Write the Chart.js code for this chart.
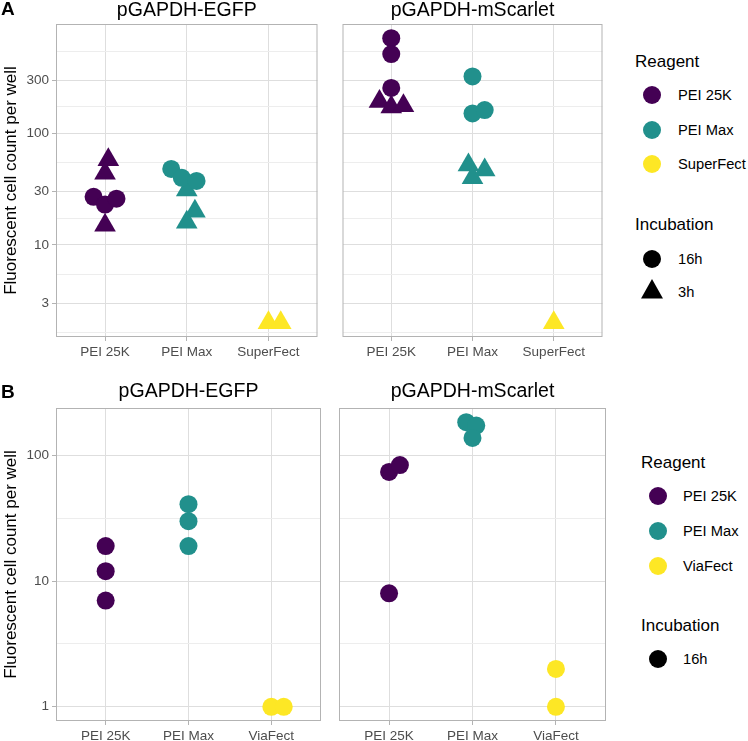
<!DOCTYPE html>
<html>
<head>
<meta charset="utf-8">
<script src="https://cdn.jsdelivr.net/npm/chart.js@4.4.1/dist/chart.umd.min.js"></script>
<style>
  html, body { margin: 0; padding: 0; background: #ffffff; }
  #wrap { position: relative; width: 748px; height: 741px; overflow: hidden;
          font-family: 'Liberation Sans', Arial, Helvetica, sans-serif; }
  #wrap canvas { position: absolute; }
  .txt { position: absolute; white-space: nowrap; line-height: 1; }
  .dot { position: absolute; border-radius: 50%; }
  .tri { position: absolute; clip-path: polygon(50% 0, 100% 100%, 0 100%); }
</style>
</head>
<body>
<div id="wrap"></div>
<script>
// ---------------- DATA ----------------
const plasmids     = ['pGAPDH-EGFP', 'pGAPDH-mScarlet'];
const reagentsA    = ['PEI 25K', 'PEI Max', 'SuperFect'];
const reagentsB    = ['PEI 25K', 'PEI Max', 'ViaFect'];
const incubationsA = ['16h', '3h'];
const incubationsB = ['16h'];
const yBreaksA     = [3, 10, 30, 100, 300];
const yBreaksB     = [1, 10, 100];
const reagentColors = ['#440154', '#21908C', '#FDE725'];
const yTitle = 'Fluorescent cell count per well';

// Panel A, pGAPDH-EGFP  (values; horizontal jitter in category units)
const aEgfpPei25k16h   = [27, 23, 26];     const aEgfpPei25k16hJit   = [-0.14, 0, 0.14];
const aEgfpPei25k3h    = [58, 44, 15];     const aEgfpPei25k3hJit    = [0.04, 0, 0];
const aEgfpPeiMax16h   = [48, 40, 37.5];   const aEgfpPeiMax16hJit   = [-0.19, -0.06, 0.12];
const aEgfpPeiMax3h    = [31, 20, 16];     const aEgfpPeiMax3hJit    = [0, 0.1, 0];
const aEgfpSuper3h     = [2, 2];           const aEgfpSuper3hJit     = [0, 0.15];

// Panel A, pGAPDH-mScarlet
const aScarPei25k16h   = [715, 515, 256];  const aScarPei25k16hJit   = [0, 0, 0];
const aScarPei25k3h    = [193, 173, 177];  const aScarPei25k3hJit    = [-0.145, 0, 0.15];
const aScarPeiMax16h   = [325, 151, 162];  const aScarPeiMax16hJit   = [0, 0, 0.15];
const aScarPeiMax3h    = [52, 40, 47];     const aScarPeiMax3hJit    = [-0.05, 0, 0.15];
const aScarSuper3h     = [2];              const aScarSuper3hJit     = [0];

// Panel B, pGAPDH-EGFP
const bEgfpPei25k16h   = [19, 12, 7];      const bEgfpPei25k16hJit   = [0, 0, 0];
const bEgfpPeiMax16h   = [41, 30, 19];     const bEgfpPeiMax16hJit   = [0, 0, 0];
const bEgfpVia16h      = [1, 1];           const bEgfpVia16hJit      = [0, 0.15];

// Panel B, pGAPDH-mScarlet
const bScarPei25k16h   = [74, 84, 8];      const bScarPei25k16hJit   = [0, 0.13, 0];
const bScarPeiMax16h   = [184, 173, 138];  const bScarPeiMax16hJit   = [-0.075, 0.045, 0];
const bScarVia16h      = [2, 1];           const bScarVia16hJit      = [0, 0];

// ---------------- HELPERS ----------------
const FONT = "'Liberation Sans', Arial, Helvetica, sans-serif";
Chart.defaults.font.family = FONT;
Chart.defaults.color = '#4D4D4D';
const wrap = document.getElementById('wrap');

function series(values, jitter, reagentIdx, incubation) {
  const tri = incubation === '3h';
  return {
    data: values.map((v, i) => ({ x: reagentIdx + 1 + jitter[i], y: v })),
    pointStyle: tri ? 'triangle' : 'circle',
    pointRadius: tri ? 12.5 : 9,
    backgroundColor: reagentColors[reagentIdx],
    borderWidth: 0,
    showLine: false
  };
}

function logLimits(all) {
  const lo = Math.log10(Math.min(...all)), hi = Math.log10(Math.max(...all));
  const e = (hi - lo) * 0.05;
  return [Math.pow(10, lo - e), Math.pow(10, hi + e)];
}
function minorBreaks(majors, min, max) {
  const b = majors.map(Math.log10);
  const bd = b[1] - b[0];
  const ext = [b[0] - bd, ...b, b[b.length - 1] + bd];
  const out = [];
  for (let i = 0; i < ext.length - 1; i++) out.push((ext[i] + ext[i + 1]) / 2);
  return out.map(v => Math.pow(10, v)).filter(v => v > min && v < max);
}

const panelBorder = {
  id: 'panelBorder',
  afterDatasetsDraw(chart) {
    const { ctx, chartArea: a } = chart;
    ctx.save();
    ctx.strokeStyle = '#B3B3B3';
    ctx.lineWidth = 1;
    ctx.strokeRect(a.left + 0.5, a.top + 0.5, a.right - a.left - 1, a.bottom - a.top - 1);
    ctx.restore();
  }
};

function makeFacet(cfg) {
  const canvas = document.createElement('canvas');
  canvas.width = cfg.w; canvas.height = cfg.h;
  canvas.style.left = cfg.x + 'px'; canvas.style.top = cfg.y + 'px';
  canvas.style.width = cfg.w + 'px'; canvas.style.height = cfg.h + 'px';
  wrap.appendChild(canvas);

  const a = cfg.area;
  const yWidth = a.left - cfg.x;
  const padR = cfg.x + cfg.w - a.right;
  const xHeight = cfg.y + cfg.h - a.bottom;
  const tSize = 19.5;
  const tTop = cfg.titleCenter - cfg.y - tSize / 2;
  const tBottom = a.top - cfg.y - tTop - tSize;

  const [ymin, ymax] = cfg.ylim;
  const minors = minorBreaks(cfg.yBreaks, ymin, ymax);
  const yTicks = [...cfg.yBreaks, ...minors];
  const isMinorVal = v => !cfg.yBreaks.some(b => Math.abs(b - v) < 1e-9);

  new Chart(canvas, {
    type: 'scatter',
    data: { datasets: cfg.datasets },
    plugins: [panelBorder],
    options: {
      responsive: false,
      animation: false,
      events: [],
      layout: { padding: { left: 0, right: padR, top: 0, bottom: 0 } },
      plugins: {
        legend: { display: false },
        tooltip: { enabled: false },
        title: {
          display: true, text: cfg.title, fullSize: false, color: '#000000',
          font: { family: FONT, size: tSize, weight: 'normal', lineHeight: 1 },
          padding: { top: tTop, bottom: tBottom }
        }
      },
      scales: {
        x: {
          type: 'linear', min: 0.4, max: 3.6,
          afterBuildTicks: s => { s.ticks = [1, 2, 3].map(v => ({ value: v })); },
          afterFit: s => { s.height = xHeight; },
          ticks: {
            autoSkip: false, maxRotation: 0, padding: 3.5,
            font: { family: FONT, size: 13.5 }, color: '#4D4D4D',
            callback: v => cfg.categories[Math.round(v) - 1]
          },
          grid: { color: '#DEDEDE', lineWidth: 1, drawTicks: true, tickLength: 4,
                  tickColor: '#B3B3B3', tickWidth: 1 },
          border: { display: false }
        },
        y: {
          type: 'logarithmic', min: ymin, max: ymax,
          afterBuildTicks: s => { s.ticks = yTicks.map(v => ({ value: v })); },
          afterFit: s => { s.width = yWidth; },
          ticks: {
            display: cfg.showY, autoSkip: false, padding: 3,
            font: { family: FONT, size: 13.5 }, color: '#4D4D4D',
            callback: v => isMinorVal(v) ? '' : String(v)
          },
          title: {
            display: cfg.showY, text: yTitle, color: '#000000',
            font: { family: FONT, size: 17, weight: 'normal', lineHeight: 1.2 },
            padding: { top: 1, bottom: 0 }
          },
          grid: {
            color: c => (c.tick && isMinorVal(c.tick.value)) ? '#EDEDED' : '#DEDEDE',
            lineWidth: 1,
            drawTicks: cfg.showY, tickLength: 4, tickWidth: 1,
            tickColor: c => (c.tick && isMinorVal(c.tick.value)) ? 'rgba(0,0,0,0)' : '#B3B3B3'
          },
          border: { display: false }
        }
      }
    }
  });
}

// ---------------- PANEL A ----------------
const allA = [].concat(aEgfpPei25k16h, aEgfpPei25k3h, aEgfpPeiMax16h, aEgfpPeiMax3h, aEgfpSuper3h,
                       aScarPei25k16h, aScarPei25k3h, aScarPeiMax16h, aScarPeiMax3h, aScarSuper3h);
const ylimA = logLimits(allA);

makeFacet({
  x: 0, y: 0, w: 330, h: 370, area: { left: 56, top: 24, right: 325, bottom: 337 },
  titleCenter: 10.5, title: plasmids[0], categories: reagentsA, yBreaks: yBreaksA, ylim: ylimA, showY: true,
  datasets: [
    series(aEgfpPei25k16h, aEgfpPei25k16hJit, 0, '16h'),
    series(aEgfpPeiMax16h, aEgfpPeiMax16hJit, 1, '16h'),
    series(aEgfpPei25k3h, aEgfpPei25k3hJit, 0, '3h'),
    series(aEgfpPeiMax3h, aEgfpPeiMax3hJit, 1, '3h'),
    series(aEgfpSuper3h, aEgfpSuper3hJit, 2, '3h')
  ]
});
makeFacet({
  x: 330, y: 0, w: 285, h: 370, area: { left: 337, top: 24, right: 608, bottom: 337 },
  titleCenter: 10.5, title: plasmids[1], categories: reagentsA, yBreaks: yBreaksA, ylim: ylimA, showY: false,
  datasets: [
    series(aScarPei25k16h, aScarPei25k16hJit, 0, '16h'),
    series(aScarPeiMax16h, aScarPeiMax16hJit, 1, '16h'),
    series(aScarPei25k3h, aScarPei25k3hJit, 0, '3h'),
    series(aScarPeiMax3h, aScarPeiMax3hJit, 1, '3h'),
    series(aScarSuper3h, aScarSuper3hJit, 2, '3h')
  ]
});

// ---------------- PANEL B ----------------
const allB = [].concat(bEgfpPei25k16h, bEgfpPeiMax16h, bEgfpVia16h, bScarPei25k16h, bScarPeiMax16h, bScarVia16h);
const ylimB = logLimits(allB);

makeFacet({
  x: 0, y: 370, w: 330, h: 371, area: { left: 56, top: 408, right: 325, bottom: 721 },
  titleCenter: 392, title: plasmids[0], categories: reagentsB, yBreaks: yBreaksB, ylim: ylimB, showY: true,
  datasets: [
    series(bEgfpPei25k16h, bEgfpPei25k16hJit, 0, '16h'),
    series(bEgfpPeiMax16h, bEgfpPeiMax16hJit, 1, '16h'),
    series(bEgfpVia16h, bEgfpVia16hJit, 2, '16h')
  ]
});
makeFacet({
  x: 330, y: 370, w: 285, h: 371, area: { left: 337, top: 408, right: 608, bottom: 721 },
  titleCenter: 392, title: plasmids[1], categories: reagentsB, yBreaks: yBreaksB, ylim: ylimB, showY: false,
  datasets: [
    series(bScarPei25k16h, bScarPei25k16hJit, 0, '16h'),
    series(bScarPeiMax16h, bScarPeiMax16hJit, 1, '16h'),
    series(bScarVia16h, bScarVia16hJit, 2, '16h')
  ]
});

// ---------------- LEGENDS & LABELS (HTML text) ----------------
function text(str, x, yc, size, opts = {}) {
  const d = document.createElement('div');
  d.className = 'txt';
  d.textContent = str;
  d.style.left = x + 'px';
  d.style.top = (yc - size / 2) + 'px';
  d.style.fontSize = size + 'px';
  d.style.color = opts.color || '#000000';
  if (opts.bold) d.style.fontWeight = 'bold';
  wrap.appendChild(d);
}
function marker(shape, color, cx, cy) {
  const d = document.createElement('div');
  if (shape === 'triangle') {
    d.className = 'tri';
    const w = 22, h = 19.5;
    d.style.width = w + 'px'; d.style.height = h + 'px';
    d.style.left = (cx - w / 2) + 'px'; d.style.top = (cy - h * 2 / 3) + 'px';
  } else {
    d.className = 'dot';
    const s = 18;
    d.style.width = s + 'px'; d.style.height = s + 'px';
    d.style.left = (cx - s / 2) + 'px'; d.style.top = (cy - s / 2) + 'px';
  }
  d.style.background = color;
  wrap.appendChild(d);
}
function legend(L, reagents, incubations) {
  text('Reagent', L.titleX, L.regTitleY, 17);
  reagents.forEach((r, i) => {
    marker('circle', reagentColors[i], L.markerX, L.regYs[i]);
    text(r, L.textX, L.regYs[i], 14.7);
  });
  text('Incubation', L.titleX, L.incTitleY, 17);
  incubations.forEach((inc, i) => {
    marker(inc === '3h' ? 'triangle' : 'circle', '#000000', L.markerX, L.incYs[i]);
    text(inc, L.textX, L.incYs[i], 14.7);
  });
}
legend({ titleX: 635, markerX: 652, textX: 678, regTitleY: 61, regYs: [95, 130, 164],
         incTitleY: 224.5, incYs: [259, 292] }, reagentsA, incubationsA);
legend({ titleX: 641, markerX: 658, textX: 683, regTitleY: 462, regYs: [496, 531, 566],
         incTitleY: 625.5, incYs: [659] }, reagentsB, incubationsB);

text('A', 1, 8.5, 19, { bold: true });
text('B', 1, 391.5, 19, { bold: true });
</script>
</body>
</html>
